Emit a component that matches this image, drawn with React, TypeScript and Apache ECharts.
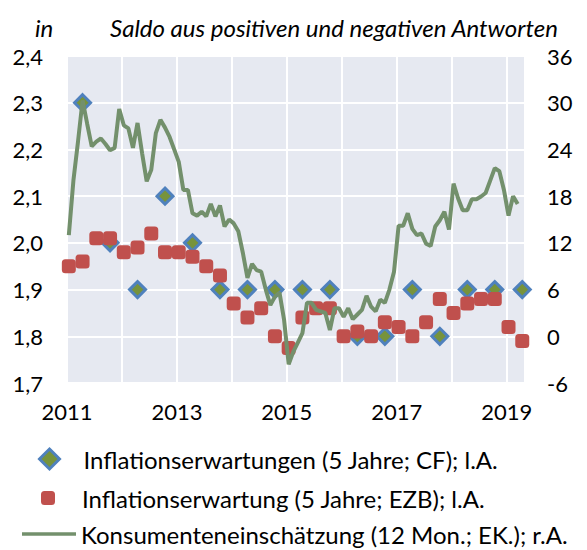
import React, { useEffect, useRef } from "react";
import * as echarts from "echarts";

// ---- Data ----
const cfDates = ["2011-04", "2011-10", "2012-04", "2012-10", "2013-04", "2013-10", "2014-04", "2014-10", "2015-04", "2015-10", "2016-04", "2016-10", "2017-04", "2017-10", "2018-04", "2018-10", "2019-04"];
const cfValues = [2.3, 2.0, 1.9, 2.1, 2.0, 1.9, 1.9, 1.9, 1.9, 1.9, 1.8, 1.8, 1.9, 1.8, 1.9, 1.9, 1.9];

const ezbDates = [
  "2011-01", "2011-04", "2011-07", "2011-10",
  "2012-01", "2012-04", "2012-07", "2012-10",
  "2013-01", "2013-04", "2013-07", "2013-10",
  "2014-01", "2014-04", "2014-07", "2014-10",
  "2015-01", "2015-04", "2015-07", "2015-10",
  "2016-01", "2016-04", "2016-07", "2016-10",
  "2017-01", "2017-04", "2017-07", "2017-10",
  "2018-01", "2018-04", "2018-07", "2018-10",
  "2019-01", "2019-04",
];
const ezbValues = [
  1.95, 1.96, 2.01, 2.01,
  1.98, 1.99, 2.02, 1.98,
  1.98, 1.97, 1.95, 1.93,
  1.87, 1.84, 1.86, 1.80,
  1.775, 1.84, 1.86, 1.86,
  1.80, 1.81, 1.80, 1.83,
  1.82, 1.80, 1.83, 1.88,
  1.85, 1.87, 1.88, 1.88,
  1.82, 1.79,
];

// Monthly, starting January 2011
const consumerStart = "2011-01";
const consumerValues = [
  13, 20, 25, 30.3, 27.3, 24.4, 25.0, 25.4, 24.7, 23.9, 24.2, 29.2, // 2011
  27.1, 26.7, 24.2, 27.4, 23.5, 19.9, 21.4, 26.1, 27.8, 26.8, 25.6, 24.0, // 2012
  22.4, 18.8, 18.8, 15.8, 15.5, 16.0, 15.4, 17.0, 15.4, 16.8, 14.1, 15.0, // 2013
  14.5, 13.5, 10.7, 7.5, 9.3, 8.5, 8.3, 6.0, 4.0, 5.1, 5.6, 2.1, // 2014
  -3.6, -2.0, -0.8, 0.4, 4.3, 4.3, 3.4, 3.2, 3.0, 0.8, 3.6, 3.6, // 2015
  2.5, 3.6, 2.2, 2.8, 3.4, 5.2, 3.8, 3.2, 4.7, 4.3, 6.0, 8.3, // 2016
  14.2, 14.2, 15.8, 13.8, 13.0, 13.2, 11.9, 11.6, 14.1, 14.9, 16.0, 13.7, // 2017
  19.6, 17.7, 16.2, 16.2, 17.6, 17.6, 17.95, 18.4, 20.0, 21.6, 21.2, 18.8, // 2018
  15.5, 18.0, 17.0, // 2019
];

const leftTicks = { min: 1.7, max: 2.4, interval: 0.1 };
const rightTicks = { min: -6, max: 36, interval: 6 };
const xRange = { min: 2011, max: 2019 + 4 / 12 };

const nameCF = "Inflationserwartungen (5 Jahre; CF); l.A.";
const nameEZB = "Inflationserwartung (5 Jahre; EZB); l.A.";
const nameEK = "Konsumenteneinschätzung (12 Mon.; EK.); r.A.";
const headerLeft = "in";
const headerRight = "Saldo aus positiven und negativen Antworten";

// ---- helpers ----
const MONTH_POS = 0.4;
function ymToX(ym: string): number {
  const [y, m] = ym.split("-").map(Number);
  return y + (m - 1 + MONTH_POS) / 12;
}
function monthlyX(start: string, n: number): number[] {
  const [y0, m0] = start.split("-").map(Number);
  const out: number[] = [];
  for (let i = 0; i < n; i++) {
    const idx = m0 - 1 + i;
    out.push(y0 + Math.floor(idx / 12) + ((idx % 12) + MONTH_POS) / 12);
  }
  return out;
}

const FONT = "Lato";
const GREEN_LINE = "#73906C";

export default function App() {
  const ref = useRef<HTMLDivElement>(null);
  useEffect(() => {
    if (!ref.current) return;
    const chart = echarts.init(ref.current, null, { renderer: "svg" });
    const lineX = monthlyX(consumerStart, consumerValues.length);
    const legendText = { fontSize: 24, fontFamily: FONT, color: "#000", lineHeight: 24 };

    const option: any = {
      animation: false,
      backgroundColor: "#ffffff",
      textStyle: { fontFamily: FONT },
      grid: {
        left: 67,
        right: 62,
        top: 56,
        bottom: 167,
        show: true,
        backgroundColor: "#E6E9F1",
        borderWidth: 0,
      },
      xAxis: {
        type: "value",
        min: xRange.min,
        max: xRange.max,
        interval: 1,
        axisLine: { show: false },
        axisTick: { show: false },
        splitLine: { show: true, lineStyle: { color: "#ffffff", width: 2 } },
        axisLabel: {
          margin: 17,
          fontSize: 22,
          fontFamily: FONT,
          color: "#000",
          formatter: (v: number) => {
            const r = Math.round(v);
            if (Math.abs(v - r) > 1e-6) return "";
            return r % 2 === 1 ? String(r) : "";
          },
        },
      },
      yAxis: [
        {
          type: "value",
          min: leftTicks.min,
          max: leftTicks.max,
          interval: leftTicks.interval,
          axisLine: { show: false },
          axisTick: { show: false },
          splitLine: { show: true, lineStyle: { color: "#ffffff", width: 2 } },
          axisLabel: {
            margin: 24,
            fontSize: 22,
            fontFamily: FONT,
            color: "#000",
            formatter: (v: number) => v.toFixed(1).replace(".", ","),
          },
        },
        {
          type: "value",
          min: rightTicks.min,
          max: rightTicks.max,
          interval: rightTicks.interval,
          axisLine: { show: false },
          axisTick: { show: false },
          splitLine: { show: false },
          axisLabel: {
            margin: 22,
            fontSize: 22,
            fontFamily: FONT,
            color: "#000",
            formatter: (v: number) => String(Math.round(v)),
          },
        },
      ],
      legend: [
        {
          orient: "vertical",
          left: 38,
          top: 447,
          padding: 0,
          itemWidth: 20,
          itemHeight: 20,
          data: [
            {
              name: nameCF,
              icon: "diamond",
              itemStyle: { color: "#77933C", borderColor: "#4F81BD", borderWidth: 3 },
            },
          ],
          textStyle: { ...legendText, padding: [0, 0, 0, 19] },
        },
        {
          orient: "vertical",
          left: 41,
          top: 486,
          padding: 0,
          itemWidth: 14,
          itemHeight: 14,
          data: [{ name: nameEZB, icon: "roundRect", itemStyle: { color: "#C0504D", borderWidth: 0 } }],
          textStyle: { ...legendText, padding: [0, 0, 0, 22] },
        },
        {
          orient: "vertical",
          left: 22,
          top: 522,
          padding: 0,
          itemWidth: 54,
          itemHeight: 3.5,
          data: [{ name: nameEK, icon: "rect", itemStyle: { color: GREEN_LINE, borderWidth: 0 } }],
          textStyle: { ...legendText, padding: [0, 0, 0, 0] },
        },
      ],
      graphic: [
        {
          type: "text",
          left: 35,
          top: 15,
          style: { text: headerLeft, font: `italic 24px ${FONT}`, fill: "#000" },
        },
        {
          type: "text",
          left: 110,
          top: 15,
          style: { text: headerRight, font: `italic 24px ${FONT}`, fill: "#000" },
        },
      ],
      series: [
        {
          name: nameCF,
          type: "scatter",
          yAxisIndex: 0,
          symbol: "diamond",
          symbolSize: 16,
          itemStyle: { color: "#77933C", borderColor: "#4F81BD", borderWidth: 3, opacity: 1 },
          z: 2,
          data: cfDates.map((d, i) => [ymToX(d), cfValues[i]]),
        },
        {
          name: nameEZB,
          type: "scatter",
          yAxisIndex: 0,
          symbol: "roundRect",
          symbolSize: 14,
          itemStyle: { color: "#C0504D", opacity: 1 },
          z: 3,
          data: ezbDates.map((d, i) => [ymToX(d), ezbValues[i]]),
        },
        {
          name: nameEK,
          type: "line",
          yAxisIndex: 1,
          symbol: "none",
          showSymbol: false,
          lineStyle: { color: GREEN_LINE, width: 4 },
          itemStyle: { color: GREEN_LINE },
          z: 4,
          data: consumerValues.map((v, i) => [lineX[i], v]),
        },
      ],
    };
    chart.setOption(option);
    return () => chart.dispose();
  }, []);
  return (
    <div
      ref={ref}
      style={{ position: "fixed", left: 0, top: 0, width: 587, height: 550 }}
    />
  );
}
